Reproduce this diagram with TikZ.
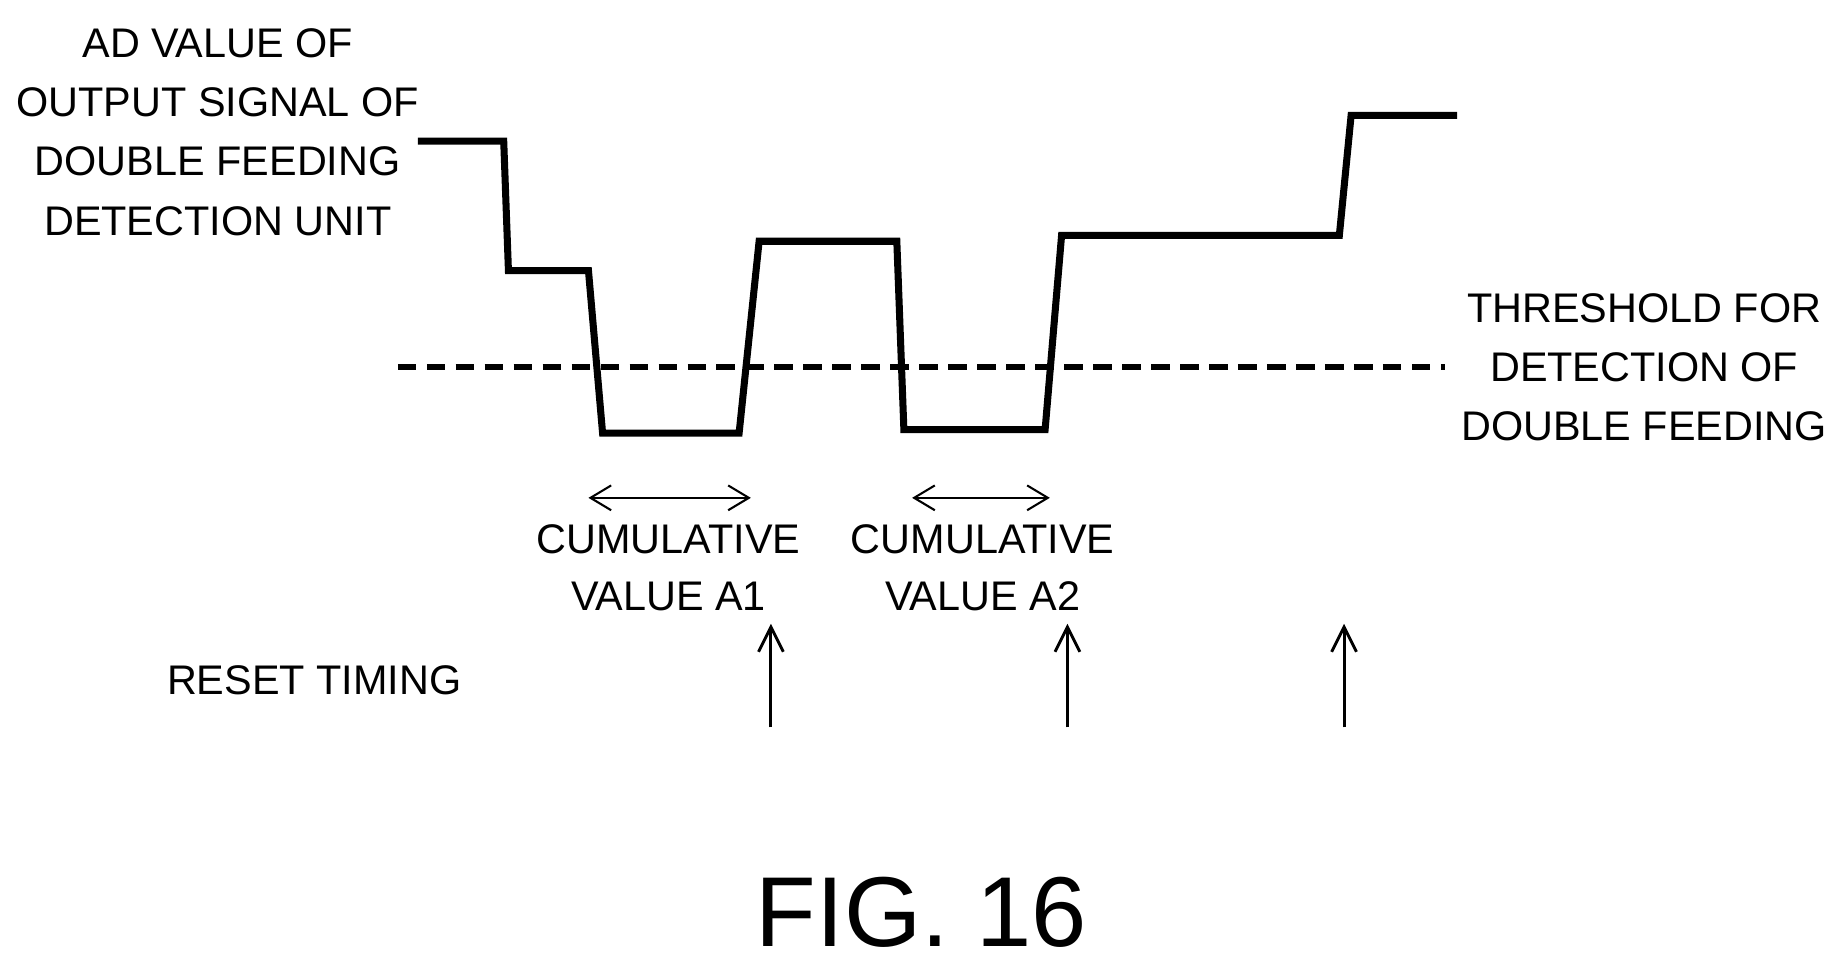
\documentclass[tikz,border=0pt]{standalone}
\usepackage{fontspec}
\setmainfont{Liberation Sans}
\usetikzlibrary{arrows.meta}
\begin{document}
\begin{tikzpicture}[x=0.01cm,y=-0.01cm,
  lbl/.style={font=\fontsize{10}{12}\selectfont, inner sep=0pt, align=center},
  sig/.style={line width=1.7pt, line join=miter},
  thr/.style={line width=1.4pt, dash pattern=on 4.5pt off 2.5pt},
  dbl/.style={line width=0.5pt, {Straight Barb[length=5pt,width=6pt]}-{Straight Barb[length=5pt,width=6pt]}},
  rst/.style={line width=0.7pt, -{Straight Barb[length=6pt,width=6pt]}}]
\useasboundingbox (0,0) rectangle (1560,828);
\node[lbl] (t1) at (185,37) {AD VALUE OF};
\node[lbl] (t2) at (185,87) {OUTPUT SIGNAL OF};
\node[lbl] (t3) at (185,137) {DOUBLE FEEDING};
\node[lbl] (t4) at (185,188) {DETECTION UNIT};
\draw[sig] (355,120)--(428,120)--(432,230)--(500,230)--(512,368)--(628,368)--(645,205)--(762,205)--(768,365)--(888,365)--(902,200)--(1138,200)--(1148,98)--(1238,98);
\coordinate (th0) at (338,312);
\coordinate (th1) at (1228,312);
\draw[thr] (th0)--(th1);
\node[lbl] (h1) at (1397,262) {THRESHOLD FOR};
\node[lbl] (h2) at (1397,312) {DETECTION OF};
\node[lbl] (h3) at (1397,362) {DOUBLE FEEDING};
\coordinate (a1l) at (500,423); \coordinate (a1r) at (638,423);
\coordinate (a2l) at (775,423); \coordinate (a2r) at (892,423);
\draw[dbl] (a1l)--(a1r);
\draw[dbl] (a2l)--(a2r);
\node[lbl] (c1) at (568,458) {CUMULATIVE};
\node[lbl] (v1) at (568,507) {VALUE A1};
\node[lbl] (c2) at (835,458) {CUMULATIVE};
\node[lbl] (v2) at (835,507) {VALUE A2};
\node[lbl] (rt) at (267,578) {RESET TIMING};
\foreach \x/\n in {655/r1,907/r2,1142/r3}{
  \coordinate (\n b) at (\x,618); \coordinate (\n t) at (\x,530);
  \draw[rst] (\n b)--(\n t);}
\node[font=\fontsize{24}{28}\selectfont, inner sep=0pt] (fig) at (783,775) {FIG. 16};
\end{tikzpicture}
\end{document}
